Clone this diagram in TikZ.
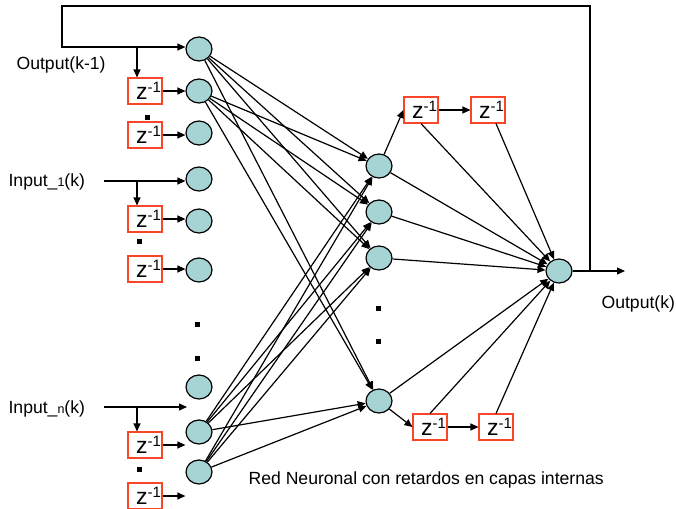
\documentclass[tikz,border=0pt]{standalone}
\usepackage{fontspec}
\setmainfont{Liberation Sans}
\usetikzlibrary{arrows.meta,shapes.geometric}
\definecolor{cellfill}{RGB}{166,212,212}
\definecolor{delayred}{RGB}{250,70,40}
\newcommand{\zinv}{\kern7pt{\fontsize{23}{23}\selectfont z}\raisebox{7pt}{\fontsize{15}{15}\selectfont -1}}
\begin{document}
\begin{tikzpicture}[x=1pt,y=-1pt,line width=1.2pt,
  neuron/.style={ellipse,draw=black,fill=cellfill,minimum width=26pt,minimum height=24pt,inner sep=0pt},
  arr/.style={-{Triangle[length=8pt,width=7pt]}},
  delay/.style={draw=delayred,line width=1.1pt,fill=white,minimum width=34pt,minimum height=26pt,inner sep=0pt},
  dotsq/.style={fill=black,minimum size=5pt,inner sep=0pt},
  lbl/.style={font=\fontsize{17.6}{20}\selectfont,inner sep=0pt,anchor=west}]
\useasboundingbox (0,0) rectangle (676,508);

% input column neurons
\node[neuron] (i1) at (199,49) {};
\node[neuron] (i2) at (199,91) {};
\node[neuron] (i3) at (199,133) {};
\node[neuron] (i4) at (199,179) {};
\node[neuron] (i5) at (199,221) {};
\node[neuron] (i6) at (199,270) {};
\node[neuron] (i7) at (199,387) {};
\node[neuron] (i8) at (199,432) {};
\node[neuron] (i9) at (199,472) {};

% hidden neurons
\node[neuron] (h1) at (379,166) {};
\node[neuron] (h2) at (379,212) {};
\node[neuron] (h3) at (379,258) {};
\node[neuron] (h4) at (379,401) {};

% output neuron
\node[neuron] (o) at (559,271) {};

% left delays
\node[delay] (d1) at (145,91) {\zinv};
\node[delay] (d2) at (145,135) {\zinv};
\node[delay] (d3) at (145,219) {\zinv};
\node[delay] (d4) at (145,269) {\zinv};
\node[delay] (d5) at (145,445) {\zinv};
\node[delay] (d6) at (145,496) {\zinv};

% internal delays
\node[delay] (t1) at (421,110) {\zinv};
\node[delay] (t2) at (488,110) {\zinv};
\node[delay] (b1) at (430,427) {\zinv};
\node[delay] (b2) at (496,427) {\zinv};

% dots
\node[dotsq] (p1) at (147,117) {};
\node[dotsq] (p2) at (139,241) {};
\node[dotsq] (p3) at (139,469) {};
\node[dotsq] (p4) at (197,324) {};
\node[dotsq] (p5) at (197,358) {};
\node[dotsq] (p6) at (378,308) {};
\node[dotsq] (p7) at (378,341) {};

% labels
\node[lbl] (lout1) at (16,65) {Output(k-1)};
\node[lbl] (lin1) at (8,182) {Input\_{\fontsize{12.5}{12.5}\selectfont 1}(k)};
\node[lbl] (linn) at (8,409) {Input\_{\fontsize{12.5}{12.5}\selectfont n}(k)};
\node[lbl] (lout) at (601,304) {Output(k)};
\node[lbl] (cap) at (248,480) {Red Neuronal con retardos en capas internas};

% feedback loop
\coordinate (fbx) at (590,271);
\coordinate (fbtr) at (590,6);
\coordinate (fbtl) at (62,6);
\coordinate (fbbl) at (62,47);
\coordinate (br1) at (137,47);
\coordinate (outend) at (625,271);
\draw[arr] (o.east) -- (outend);
\draw[arr] (fbx) -- (fbtr) -- (fbtl) -- (fbbl) -- (fbbl -| i1.west);
\draw[arr] (br1) -- (br1 |- d1.north);

% input 1
\coordinate (in1) at (104,181);
\coordinate (br2) at (137,181);
\draw[arr] (in1) -- (in1 -| i4.west);
\draw[arr] (br2) -- (br2 |- d3.north);

% input n
\coordinate (inn) at (104,407);
\coordinate (innend) at (187,407);
\coordinate (br3) at (137,407);
\draw[arr] (inn) -- (innend);
\draw[arr] (br3) -- (br3 |- d5.north);

% delay outputs
\draw[arr] (d1.east) -- (d1.east -| i2.west);
\draw[arr] (d2.east) -- (d2.east -| i3.west);
\draw[arr] (d3.east) -- (d3.east -| i5.west);
\draw[arr] (d4.east) -- (d4.east -| i6.west);
\draw[arr] (d5.east) -- (d5.east -| i8.west);
\draw[arr] (d6.east) -- (d6.east -| i9.west);

% input -> hidden
\foreach \s in {i1,i2,i8,i9}{
  \foreach \t in {h1,h2,h3,h4}{
    \draw[arr] (\s) -- (\t);
  }
}

% hidden -> output
\foreach \t in {h1,h2,h3,h4}{
  \draw[arr] (\t) -- (o);
}

% top internal delays
\draw[arr] (h1) -- (t1.west);
\draw[arr] (t1.east) -- (t2.west);
\draw[arr] (t1.south) -- (o);
\draw[arr] ([xshift=8pt]t2.south) -- (o);

% bottom internal delays
\draw[arr] (h4) -- (b1.west);
\draw[arr] (b1.east) -- (b2.west);
\draw[arr] (b1.north) -- (o);
\draw[arr] (b2.north) -- (o);
\end{tikzpicture}
\end{document}
